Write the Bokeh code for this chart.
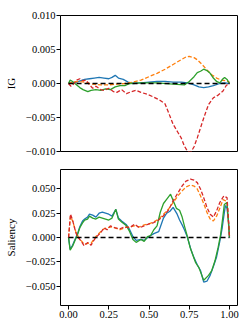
from bokeh.plotting import figure
from bokeh.layouts import column
from bokeh.models import FixedTicker, CustomJSTickFormatter, Range1d
from bokeh.embed import file_html
from bokeh.resources import INLINE

# ---------------- IG panel data ----------------
ig_blue_x = [0, 0.03, 0.05, 0.1, 0.13, 0.16, 0.19, 0.22, 0.25, 0.27, 0.29, 0.31, 0.34, 0.37, 0.4, 0.45, 0.5, 0.55, 0.6, 0.65, 0.7, 0.74, 0.78, 0.81, 0.84, 0.87, 0.9, 0.94, 0.97, 1.0]
ig_blue_y = [0, 0.0001, 0.0002, 0.0006, 0.0007, 0.0008, 0.0009, 0.0008, 0.0007, 0.0009, 0.0012, 0.0008, 0.0006, 0.0002, 0.0, 0.0001, 0.0002, 0.0003, 0.0003, 0.0002, 0.0002, 0.0001, -0.0002, -0.0005, -0.0006, -0.0005, -0.0003, 0.0, 0.0001, 0.0]

ig_orange_x = [0, 0.03, 0.06, 0.1, 0.15, 0.2, 0.25, 0.3, 0.35, 0.4, 0.45, 0.5, 0.55, 0.6, 0.65, 0.7, 0.73, 0.75, 0.78, 0.8, 0.83, 0.86, 0.89, 0.92, 0.95, 0.98, 1.0]
ig_orange_y = [0, 0.0002, 0.0003, 0.0002, -0.0001, -0.0002, -0.0002, -0.0001, 0.0, 0.0002, 0.0005, 0.0010, 0.0015, 0.0021, 0.0028, 0.0035, 0.0039, 0.0040, 0.0038, 0.0035, 0.0028, 0.0020, 0.0013, 0.0008, 0.0005, 0.0004, 0.0002]

ig_green_x = [0, 0.01, 0.025, 0.045, 0.07, 0.09, 0.12, 0.14, 0.17, 0.2, 0.23, 0.26, 0.29, 0.32, 0.35, 0.38, 0.45, 0.55, 0.65, 0.72, 0.75, 0.78, 0.8, 0.82, 0.84, 0.86, 0.88, 0.9, 0.92, 0.94, 0.96, 0.97, 0.985, 1.0]
ig_green_y = [0, 0.0005, 0.0003, -0.0001, -0.0006, -0.0009, -0.0012, -0.0010, -0.0009, -0.0010, -0.0008, -0.0009, -0.0005, -0.0003, -0.0003, 0.0, 0.0001, 0.0001, -0.0001, -0.0002, 0.0003, 0.0010, 0.0016, 0.0018, 0.0021, 0.0019, 0.0015, 0.0008, 0.0003, 0.0001, 0.0007, 0.0009, 0.0006, 0.0]

ig_red_x = [0, 0.015, 0.03, 0.05, 0.07, 0.09, 0.11, 0.13, 0.15, 0.17, 0.2, 0.22, 0.25, 0.28, 0.3, 0.33, 0.36, 0.39, 0.42, 0.45, 0.49, 0.53, 0.57, 0.6, 0.62, 0.65, 0.68, 0.7, 0.72, 0.74, 0.76, 0.78, 0.8, 0.83, 0.85, 0.87, 0.9, 0.93, 0.96, 0.98, 1.0]
ig_red_y = [0, -0.0004, -0.0001, 0.0005, 0.0007, 0.0004, 0.0005, -0.0002, -0.0007, -0.0004, -0.0009, -0.0010, -0.0007, -0.0012, -0.0013, -0.0009, -0.0015, -0.0012, -0.0010, -0.0013, -0.0016, -0.0020, -0.0025, -0.0030, -0.0042, -0.0060, -0.0072, -0.0080, -0.0092, -0.0100, -0.0101, -0.0093, -0.0080, -0.0058, -0.0044, -0.0031, -0.0021, -0.0017, -0.0011, -0.0003, 0.0001]

# ---------------- Saliency panel data ----------------
sal_blue_x = [0, 0.01, 0.025, 0.04, 0.056, 0.07, 0.087, 0.1, 0.118, 0.13, 0.15, 0.17, 0.19, 0.21, 0.23, 0.25, 0.27, 0.294, 0.31, 0.33, 0.36, 0.38, 0.4, 0.42, 0.45, 0.47, 0.5, 0.53, 0.56, 0.59, 0.61, 0.63, 0.65, 0.675, 0.69, 0.706, 0.72, 0.737, 0.76, 0.78, 0.8, 0.82, 0.84, 0.86, 0.88, 0.9, 0.92, 0.94, 0.955, 0.965, 0.975, 0.985, 0.995, 1.0]
sal_blue_y = [0, -0.012, -0.008, -0.002, 0.004, 0.011, 0.017, 0.019, 0.021, 0.024, 0.023, 0.021, 0.025, 0.026, 0.025, 0.024, 0.022, 0.029, 0.020, 0.017, 0.013, 0.008, 0.001, -0.003, -0.002, -0.003, 0.001, 0.004, 0.006, 0.020, 0.025, 0.027, 0.031, 0.024, 0.018, 0.013, 0.008, 0.001, -0.012, -0.021, -0.028, -0.034, -0.046, -0.045, -0.039, -0.030, -0.020, -0.004, 0.010, 0.022, 0.033, 0.030, 0.015, 0.0]

sal_orange_x = [0, 0.012, 0.025, 0.045, 0.06, 0.077, 0.097, 0.12, 0.14, 0.157, 0.17, 0.2, 0.22, 0.24, 0.26, 0.29, 0.32, 0.35, 0.38, 0.41, 0.44, 0.47, 0.5, 0.53, 0.56, 0.59, 0.62, 0.65, 0.68, 0.706, 0.73, 0.757, 0.78, 0.8, 0.82, 0.84, 0.86, 0.88, 0.9, 0.92, 0.94, 0.96, 0.985, 1.0]
sal_orange_y = [0, 0.022, 0.017, 0.006, 0.001, -0.003, -0.007, -0.006, -0.006, -0.002, 0.001, 0.006, 0.009, 0.010, 0.011, 0.010, 0.008, 0.010, 0.011, 0.012, 0.011, 0.013, 0.014, 0.016, 0.019, 0.024, 0.029, 0.036, 0.043, 0.048, 0.052, 0.054, 0.053, 0.050, 0.043, 0.035, 0.026, 0.019, 0.017, 0.022, 0.030, 0.039, 0.037, 0.002]

sal_green_x = [0, 0.01, 0.025, 0.04, 0.056, 0.07, 0.087, 0.1, 0.118, 0.13, 0.15, 0.17, 0.19, 0.21, 0.23, 0.25, 0.27, 0.294, 0.31, 0.33, 0.36, 0.38, 0.4, 0.42, 0.45, 0.47, 0.49, 0.51, 0.53, 0.55, 0.57, 0.59, 0.613, 0.634, 0.65, 0.67, 0.69, 0.706, 0.72, 0.737, 0.755, 0.77, 0.79, 0.81, 0.84, 0.87, 0.89, 0.91, 0.93, 0.945, 0.958, 0.968, 0.985, 1.0]
sal_green_y = [0, -0.013, -0.009, -0.003, 0.003, 0.010, 0.015, 0.018, 0.019, 0.022, 0.020, 0.019, 0.021, 0.020, 0.019, 0.018, 0.020, 0.029, 0.019, 0.016, 0.012, 0.006, -0.002, -0.005, -0.002, -0.004, 0.001, 0.002, 0.008, 0.012, 0.026, 0.035, 0.040, 0.0446, 0.038, 0.030, 0.028, 0.021, 0.012, 0.002, -0.010, -0.017, -0.026, -0.031, -0.044, -0.039, -0.034, -0.024, -0.010, 0.003, 0.020, 0.034, 0.036, 0.0]

sal_red_x = [0, 0.012, 0.025, 0.045, 0.06, 0.077, 0.097, 0.12, 0.14, 0.157, 0.17, 0.2, 0.22, 0.24, 0.26, 0.29, 0.32, 0.35, 0.38, 0.41, 0.44, 0.47, 0.5, 0.53, 0.56, 0.59, 0.62, 0.65, 0.68, 0.706, 0.73, 0.757, 0.78, 0.8, 0.82, 0.84, 0.86, 0.88, 0.9, 0.92, 0.94, 0.965, 0.985, 1.0]
sal_red_y = [0, 0.024, 0.018, 0.005, 0.0, -0.0034, -0.0085, -0.005, -0.008, -0.003, 0.0, 0.005, 0.010, 0.008, 0.012, 0.010, 0.009, 0.011, 0.010, 0.0137, 0.010, 0.012, 0.014, 0.0154, 0.018, 0.0223, 0.028, 0.0377, 0.046, 0.0531, 0.058, 0.060, 0.059, 0.0565, 0.050, 0.041, 0.031, 0.024, 0.021, 0.0274, 0.036, 0.0428, 0.041, 0.002]

zero_x = [0, 1]
zero_y = [0, 0]

ig_ticks = [-0.010, -0.005, 0.0, 0.005, 0.010]
sal_ticks = [-0.050, -0.025, 0.0, 0.025, 0.050]
x_ticks = [0.0, 0.25, 0.5, 0.75, 1.0]

BLUE, ORANGE, GREEN, RED = "#1f77b4", "#ff7f0e", "#2ca02c", "#d62728"
FONT = "Liberation Serif"


def fmt(decimals):
    return CustomJSTickFormatter(code=f"""
        const s = Math.abs(tick).toFixed({decimals});
        return (tick < -1e-12 ? '\\u2212' : '') + s;
    """)


def style(p, yticks, ydec, label):
    p.outline_line_color = "black"
    p.outline_line_width = 1
    p.xgrid.visible = False
    p.ygrid.visible = False
    p.background_fill_color = "white"
    p.border_fill_color = "white"
    for ax in p.axis:
        ax.axis_line_color = None
        ax.major_tick_out = 4
        ax.major_tick_in = 0
        ax.minor_tick_line_color = None
        ax.major_tick_line_color = "black"
        ax.major_label_text_font = FONT
        ax.major_label_text_font_size = "10.5px"
        ax.major_label_text_color = "black"
        ax.major_label_standoff = 1
    p.yaxis.ticker = FixedTicker(ticks=yticks)
    p.yaxis.formatter = fmt(ydec)
    p.yaxis.axis_label = label
    p.yaxis.axis_label_text_font = FONT
    p.yaxis.axis_label_text_font_style = "normal"
    p.yaxis.axis_label_text_font_size = "11px"
    p.yaxis.axis_label_text_color = "black"
    p.yaxis.axis_label_standoff = 6


def draw(p, data):
    for xs, ys, color, dash in data:
        p.line(xs, ys, line_color=color, line_width=1.3, line_dash=dash)
    p.line(zero_x, zero_y, line_color="black", line_width=1.5, line_dash="5 3")


p1 = figure(width=249, height=160, output_backend="svg", toolbar_location=None,
            x_range=Range1d(-0.05, 1.05), y_range=Range1d(-0.010, 0.010),
            min_border_left=60, min_border_right=12, min_border_top=15, min_border_bottom=9)
style(p1, ig_ticks, 3, "IG")
p1.xaxis.visible = False
draw(p1, [(ig_blue_x, ig_blue_y, BLUE, "solid"),
          (ig_orange_x, ig_orange_y, ORANGE, "4 2"),
          (ig_green_x, ig_green_y, GREEN, "solid"),
          (ig_red_x, ig_red_y, RED, "4 2")])

p2 = figure(width=249, height=167, output_backend="svg", toolbar_location=None,
            x_range=Range1d(-0.05, 1.05), y_range=Range1d(-0.07, 0.07),
            min_border_left=60, min_border_right=12, min_border_top=9, min_border_bottom=22)
style(p2, sal_ticks, 3, "Saliency")
p2.xaxis.ticker = FixedTicker(ticks=x_ticks)
p2.xaxis.formatter = fmt(2)
draw(p2, [(sal_blue_x, sal_blue_y, BLUE, "solid"),
          (sal_orange_x, sal_orange_y, ORANGE, "4 2"),
          (sal_green_x, sal_green_y, GREEN, "solid"),
          (sal_red_x, sal_red_y, RED, "4 2")])

layout = column(p1, p2, spacing=0)
open("out.html", "w").write(file_html(layout, INLINE))
